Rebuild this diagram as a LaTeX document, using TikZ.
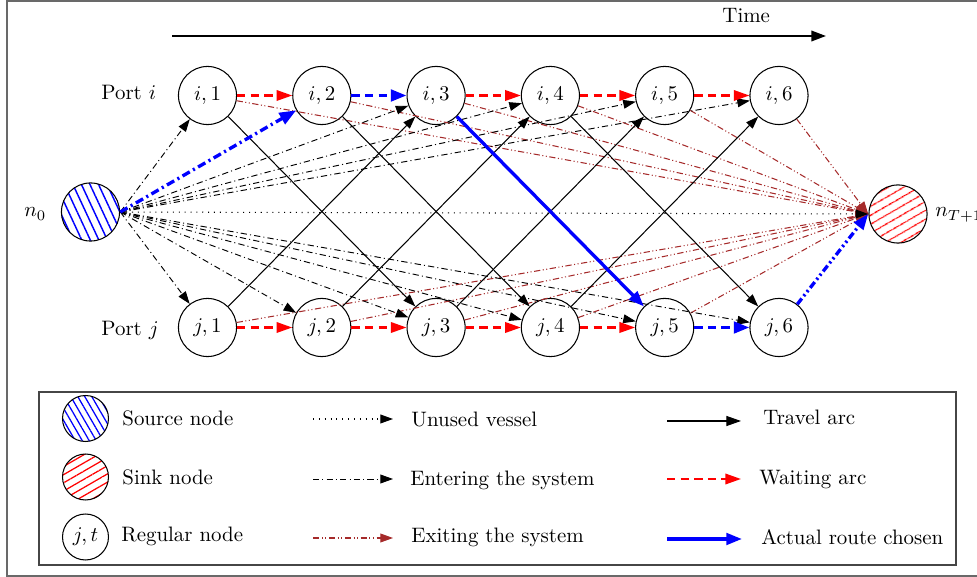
\documentclass[tikz,border=0pt]{standalone}
\usetikzlibrary{arrows.meta,patterns.meta}
\definecolor{exitbrown}{RGB}{165,42,42}
\definecolor{framegray}{RGB}{105,105,105}
\definecolor{legendgray}{RGB}{70,70,70}

\begin{document}
\begin{tikzpicture}[x=0.4785pt,y=-0.4785pt,
  reg/.style={circle,draw,line width=0.5pt,minimum size=27.8pt,inner sep=0pt},
  lreg/.style={circle,draw,line width=0.5pt,minimum size=22pt,inner sep=0pt},
  srcfill/.style={pattern={Lines[angle=-65,distance=3.7pt,line width=0.7pt]},pattern color=blue},
  sinkfill/.style={pattern={Lines[angle=30,distance=4pt,line width=0.7pt]},pattern color=red},
  lbl/.style={inner sep=0pt,anchor=base west},
  thintip/.style={-{Triangle[length=6pt,width=4.2pt]}},
  bigtip/.style={-{Triangle[length=7.5pt,width=5pt]}},
  travel/.style={black,line width=0.5pt,thintip},
  wait/.style={red,line width=1pt,dash pattern=on 4pt off 2.5pt,bigtip},
  entering/.style={black,line width=0.45pt,dash pattern=on 3pt off 1.5pt on 0.5pt off 1.5pt,thintip},
  exiting/.style={exitbrown,line width=0.5pt,dash pattern=on 3pt off 1.2pt on 0.5pt off 1.2pt on 0.5pt off 1.2pt,thintip},
  unused/.style={black,line width=0.5pt,dash pattern=on 0.5pt off 2.3pt,thintip},
  routeenter/.style={blue,line width=1.6pt,dash pattern=on 4pt off 1.8pt on 1pt off 1.8pt,-{Triangle[length=8pt,width=6pt]}},
  routewait/.style={blue,line width=1.6pt,dash pattern=on 4pt off 2.5pt,-{Triangle[length=7.5pt,width=5.5pt]}},
  routetravel/.style={blue,line width=1.6pt,-{Triangle[length=7.5pt,width=5.5pt]}},
  routeexit/.style={blue,line width=1.6pt,dash pattern=on 3.5pt off 1.5pt on 1pt off 1.5pt on 1pt off 1.5pt,-{Triangle[length=7.5pt,width=5.5pt]}},
]
\path[use as bounding box] (0,0) rectangle (977,577);

% outer frame
\draw[framegray,line width=0.6pt] (7,1) rectangle (1000,576);

% time axis
\coordinate (tstart) at (172,36);
\coordinate (tend) at (826,36);
\draw[line width=1pt,-{Triangle[length=7pt,width=5pt]}] (tstart) -- (tend);
\node[lbl] (timelbl) at (722,23) {Time};

% port labels
\node[lbl] (porti) at (101,100) {Port $i$};
\node[lbl] (portj) at (101,336) {Port $j$};

% regular nodes
\foreach \k in {1,...,6}{
  \node[reg] (i\k) at ({207.5+114.3*(\k-1)},95.5) {$i,\k$};
  \node[reg] (j\k) at ({207.5+114.3*(\k-1)},327.5) {$j,\k$};
}

% source and sink
\node[reg,srcfill] (n0) at (90.5,212) {};
\node[reg,sinkfill] (sink) at (898,214) {};
\node[lbl] (n0lbl) at (24,217) {$n_0$};
\node[lbl] (sinklbl) at (935,217) {$n_{T+1}$};

% exiting arcs
\foreach \k in {1,...,6}{ \draw[exiting] (i\k) -- (sink.west); }
\foreach \k in {1,...,5}{ \draw[exiting] (j\k) -- (sink.west); }

% entering arcs
\foreach \k in {1,3,4,5,6}{ \draw[entering] (n0.east) -- (i\k); }
\foreach \k in {1,...,6}{ \draw[entering] (n0.east) -- (j\k); }

% travel arcs
\draw[travel] (i1) -- (j3);
\draw[travel] (i2) -- (j4);
\draw[travel] (i4) -- (j6);
\draw[travel] (j1) -- (i3);
\draw[travel] (j2) -- (i4);
\draw[travel] (j3) -- (i5);
\draw[travel] (j4) -- (i6);

% waiting arcs
\foreach \a/\b in {1/2,3/4,4/5,5/6}{ \draw[wait] (i\a) -- (i\b); }
\foreach \a/\b in {1/2,2/3,3/4,4/5}{ \draw[wait] (j\a) -- (j\b); }

% unused vessel
\draw[unused] (n0.east) -- (sink.west);

% chosen route
\draw[routeenter] (n0.east) -- (i2);
\draw[routewait] (i2) -- (i3);
\draw[routetravel] (i3) -- (j5);
\draw[routewait] (j5) -- (j6);
\draw[routeexit] (j6) -- (sink.west);

% legend
\draw[legendgray,line width=0.6pt] (39,392) rectangle (956,565);
\node[lreg,pattern={Lines[angle=-60,distance=2.9pt,line width=0.6pt]},pattern color=blue] (lsrc) at (85.5,418.5) {};
\node[lreg,pattern={Lines[angle=30,distance=3.4pt,line width=0.6pt]},pattern color=red] (lsink) at (85.5,477) {};
\node[lreg] (lregn) at (85.5,537) {$j,t$};
\node[lbl] (tsrc) at (122,426) {Source node};
\node[lbl] (tsink) at (122,485) {Sink node};
\node[lbl] (treg) at (121,542) {Regular node};

\coordinate (ua) at (313,419); \coordinate (ub) at (393,419);
\coordinate (ea) at (313,479); \coordinate (eb) at (393,479);
\coordinate (xa) at (313,538); \coordinate (xb) at (393,538);
\draw[unused] (ua) -- (ub);
\draw[entering] (ea) -- (eb);
\draw[exiting] (xa) -- (xb);
\node[lbl] (tunused) at (411,427) {Unused vessel};
\node[lbl] (tenter) at (410,486) {Entering the system};
\node[lbl] (texit) at (411,543) {Exiting the system};

\coordinate (ta) at (667,421); \coordinate (tb) at (741,421);
\coordinate (wa) at (667,479); \coordinate (wb) at (741,479);
\coordinate (ra) at (667,539); \coordinate (rb) at (742,539);
\draw[travel,-{Triangle[length=7pt,width=4.8pt]}] (ta) -- (tb);
\draw[wait] (wa) -- (wb);
\draw[routetravel] (ra) -- (rb);
\node[lbl] (ttravel) at (763,425) {Travel arc};
\node[lbl] (twait) at (759,485) {Waiting arc};
\node[lbl] (troute) at (761,545) {Actual route chosen};
\end{tikzpicture}
\end{document}
